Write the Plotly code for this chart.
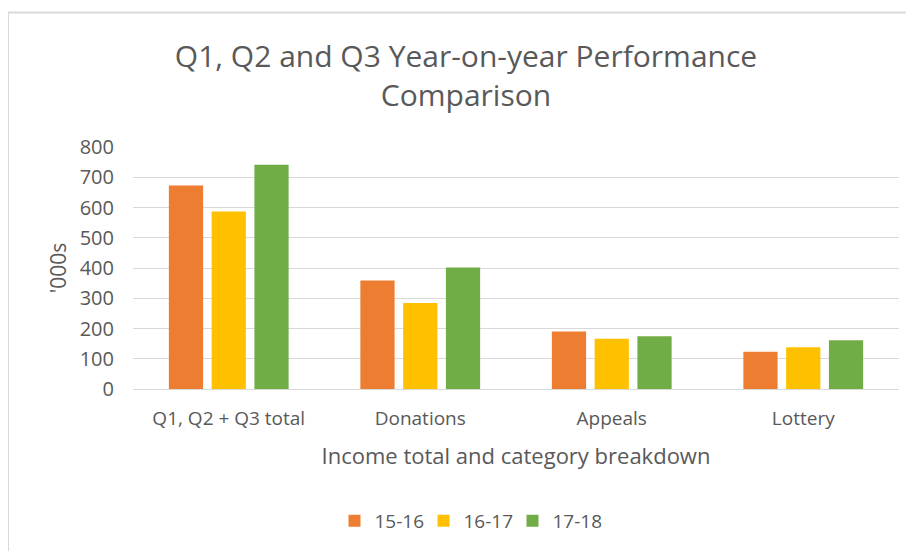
import plotly.graph_objects as go

categories = ["Q1, Q2 + Q3 total", "Donations", "Appeals", "Lottery"]
series_names = ["15-16", "16-17", "17-18"]
values_1516 = [673, 359, 190, 123]
values_1617 = [587, 284, 166, 138]
values_1718 = [741, 402, 174, 161]
colors = ["#ED7D31", "#FFC000", "#70AD47"]
y_ticks = [0, 100, 200, 300, 400, 500, 600, 700, 800]

# page body has an 8px margin, so the figure sits at (8, 8) in the window
OFF = 8
W, H = 914 - OFF, 551 - OFF
L, R, T, B = 133 - OFF, 15, 147 - OFF, 161
FONT = "Open Sans"
GRAY = "#595959"

fig = go.Figure()
for name, vals, col in zip(series_names, [values_1516, values_1617, values_1718], colors):
    fig.add_trace(go.Bar(name=name, x=categories, y=vals, marker=dict(color=col, line=dict(width=0))))

pw = W - L - R
ph = H - T - B
def px_x(px):
    return (px - OFF - L) / pw
def px_y(py):
    return (H - B - (py - OFF)) / ph

fig.update_layout(
    width=W, height=H,
    margin=dict(l=L, r=R, t=T, b=B),
    paper_bgcolor="white", plot_bgcolor="white",
    barmode="group", bargap=0.33, bargroupgap=0.2,
    font=dict(family=FONT, color=GRAY),
    title=dict(text="Q1, Q2 and Q3 Year-on-year Performance<br>Comparison",
               x=(466 - OFF) / W, xanchor="center", y=1 - (67 - OFF) / H, yanchor="middle",
               font=dict(size=30, color=GRAY, family=FONT)),
    xaxis=dict(showgrid=False, showline=False, ticks="", tickfont=dict(size=19, color=GRAY),
               ticklabelstandoff=16,
               title=dict(text="Income total and category breakdown", font=dict(size=22, color=GRAY), standoff=18)),
    yaxis=dict(range=[0, 800], tickvals=y_ticks, showgrid=True, gridcolor="#D9D9D9", gridwidth=1,
               zeroline=True, zerolinecolor="#D9D9D9", zerolinewidth=1, showline=False, ticks="",
               tickfont=dict(size=20, color=GRAY), ticklabelstandoff=18,
               title=dict(text="'000s", font=dict(size=21, color=GRAY), standoff=7)),
    legend=dict(orientation="h", x=px_x(468), xanchor="center", y=px_y(521), yanchor="middle",
                font=dict(size=19, color=GRAY), itemwidth=30, entrywidth=44, entrywidthmode="pixels",
                traceorder="normal"),
    shapes=[dict(type="rect", xref="paper", yref="paper",
                 x0=px_x(8), x1=px_x(913), y0=px_y(570), y1=px_y(12),
                 line=dict(color="#D9D9D9", width=2), layer="below")],
)

fig.write_html("out.html")
